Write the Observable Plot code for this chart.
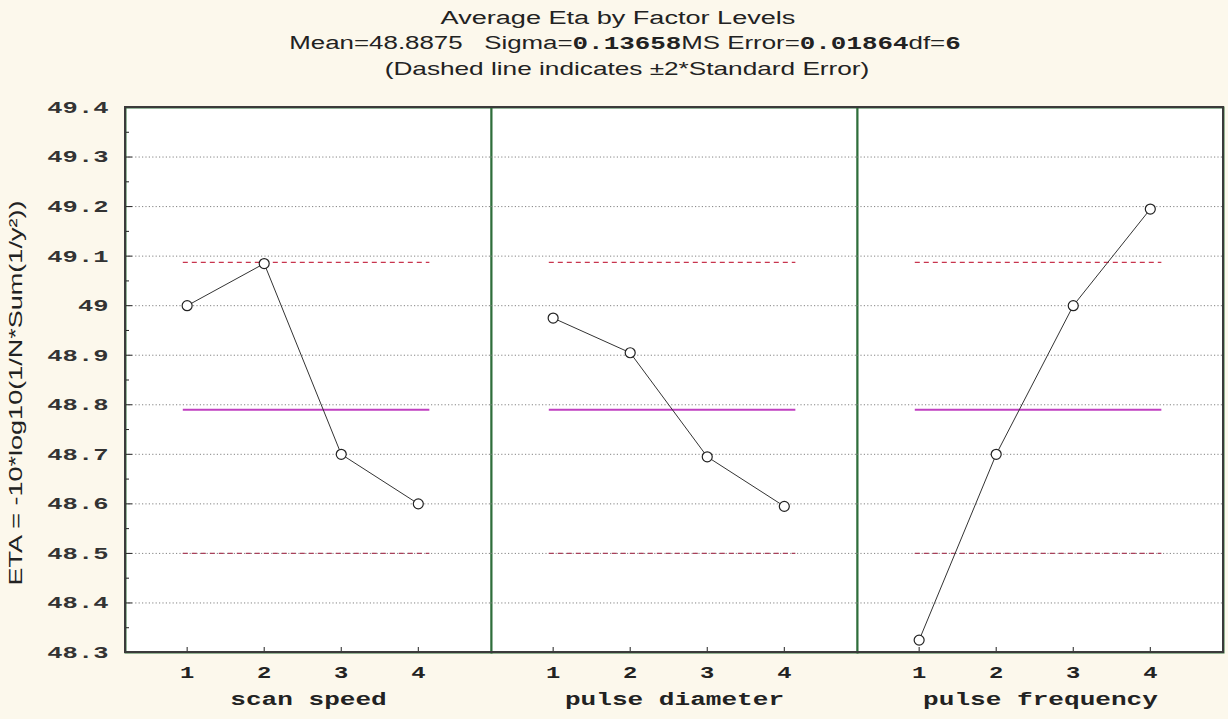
<!DOCTYPE html>
<html>
<head>
<meta charset="utf-8">
<script src="https://cdn.jsdelivr.net/npm/d3@7"></script>
<script src="https://cdn.jsdelivr.net/npm/@observablehq/plot@0.6"></script>
<style>
  html, body { margin: 0; padding: 0; background: #fcf8ec; }
  #chart { width: 1228px; height: 719px; position: relative; }
</style>
</head>
<body>
<div id="chart"></div>
<script>
// ---- data ----
const factors = ["scan speed", "pulse diameter", "pulse frequency"];
const levels = [1, 2, 3, 4];
const scanSpeed = [49.0, 49.085, 48.70, 48.60];
const pulseDiameter = [48.975, 48.905, 48.695, 48.595];
const pulseFrequency = [48.325, 48.70, 49.0, 49.195];
const yTicks = [48.3, 48.4, 48.5, 48.6, 48.7, 48.8, 48.9, 49.0, 49.1, 49.2, 49.3, 49.4];
const yMinorTicks = [48.35, 48.45, 48.55, 48.65, 48.75, 48.85, 48.95, 49.05, 49.15, 49.25, 49.35];
const errorLimits = [48.5, 49.0875];
const centerLine = [48.79];
const titleText = "Average Eta by Factor Levels";
const noteText = "(Dashed line indicates \u00b12*Standard Error)";
const yLabel = "ETA = -10*log10(1/N*Sum(1/y\u00b2))";

const series = [scanSpeed, pulseDiameter, pulseFrequency];
const rows = factors.flatMap((f, i) => levels.map((l, j) => ({factor: f, level: l, eta: series[i][j]})));
const limitRows = factors.flatMap(f => errorLimits.map(v => ({factor: f, v})));
const centerRows = factors.flatMap(f => centerLine.map(v => ({factor: f, v})));
const spanLo = d3.min(levels) - 0.05, spanHi = d3.max(levels) + 0.15;

const mono = "'Liberation Mono', 'DejaVu Sans Mono', monospace";
const sans = "'Liberation Sans', Arial, sans-serif";

const W = 1228, H = 719, mL = 125, mR = 5, mT = 107, mB = 67;

const plot = Plot.plot({
  width: W, height: H,
  marginTop: mT, marginLeft: mL, marginRight: mR, marginBottom: mB,
  style: {background: "transparent", fontFamily: mono, fontSize: "15px", color: "#333"},
  fx: {domain: factors, padding: 0, axis: null},
  x: {domain: [0.2, 4.95], axis: null},
  y: {domain: [48.3, 49.4], axis: null},
  marks: [
    Plot.frame({fill: "white", stroke: "#2f6e3b", strokeWidth: 2}),
    Plot.gridY(yTicks, {stroke: "#777", strokeOpacity: 0.9, strokeDasharray: "1.2,2.2", strokeWidth: 1}),
    Plot.ruleY(limitRows, {fx: "factor", y: "v", x1: spanLo, x2: spanHi, stroke: d => d.v > 48.8 ? "#c8344e" : "#a8405a", strokeWidth: 1.3, strokeDasharray: "5,4"}),
    Plot.ruleY(centerRows, {fx: "factor", y: "v", x1: spanLo, x2: spanHi, stroke: "#c040c0", strokeWidth: 2}),
    Plot.line(rows, {x: "level", y: "eta", fx: "factor", stroke: "#333", strokeWidth: 1}),
    Plot.dot(rows, {x: "level", y: "eta", fx: "factor", r: 5, stroke: "#222", fill: "white", strokeWidth: 1.2}),
    Plot.axisX(levels, {anchor: "bottom", tickSize: -5, tickPadding: 18, tickFormat: d => String(d), fontWeight: "bold", fontSize: 17, label: null, stroke: "#222", fill: "#222"}),
    Plot.axisY(yTicks, {anchor: "left", tickSize: -7, tickPadding: 24, tickFormat: d => (Number.isInteger(d) ? String(d) : d.toFixed(1)), fontWeight: "bold", fontSize: 17, label: null, stroke: "#222", fill: "#333"}),
    Plot.axisY(yMinorTicks, {anchor: "left", tickSize: -4, tickFormat: null, text: null, label: null, stroke: "#222"}),
    Plot.text(factors, {fx: d => d, text: d => d, frameAnchor: "bottom", dy: 52, fontSize: 18, fontWeight: "bold", fontFamily: mono, fill: "#222"})
  ]
});

document.getElementById("chart").appendChild(plot);
const svg = d3.select(plot);

// horizontal stretch helper (the reference glyphs are wide)
function stretch(sel, s) {
  sel.each(function() {
    const xa = this.getAttribute("x");
    const t = this.getAttribute("transform") || "";
    let extra = "";
    if (xa !== null && isFinite(+xa) && +xa !== 0) { extra = ` translate(${+xa},0)`; this.setAttribute("x", 0); }
    this.setAttribute("transform", `${t}${extra} scale(${s},1)`);
  });
}
stretch(svg.selectAll("[aria-label='y-axis tick label'] text"), 1.5);
stretch(svg.selectAll("[aria-label='x-axis tick label'] text"), 1.4);
stretch(svg.selectAll("g[aria-label='text'] text"), 1.45);

// overall frame
svg.append("rect")
  .attr("x", mL).attr("y", mT)
  .attr("width", W - mL - mR).attr("height", H - mT - mB)
  .attr("fill", "none").attr("stroke", "#3a3a3a").attr("stroke-width", 2);

function fitText(sel, cx, y, target) {
  const len = sel.node().getComputedTextLength();
  sel.attr("x", 0).attr("y", 0).attr("text-anchor", "middle")
    .attr("transform", `translate(${cx},${y}) scale(${target / len},1)`);
}

// titles
const t1 = svg.append("text").style("font-family", sans).style("font-size", "19px").attr("fill", "#222").text(titleText);
fitText(t1, 618, 24, 355);

const sub = svg.append("text").attr("fill", "#222").style("font-size", "19px").style("font-family", sans).attr("xml:space", "preserve");
const parts = [
  ["Mean=48.8875   Sigma=", sans], ["0.13658", mono], ["MS Error=", sans],
  ["0.01864", mono], ["df=", sans], ["6", mono]
];
parts.forEach(([t, f]) => {
  const ts = sub.append("tspan").style("font-family", f).text(t);
  if (f === mono) ts.style("font-weight", "bold");
});
fitText(sub, 625, 49, 672);

const t3 = svg.append("text").style("font-family", sans).style("font-size", "19px").attr("fill", "#222").text(noteText);
fitText(t3, 627, 75, 485);

const yl = svg.append("text").style("font-family", sans).style("font-size", "19px").attr("fill", "#222").text(yLabel);
{
  const len = yl.node().getComputedTextLength();
  yl.attr("text-anchor", "middle")
    .attr("transform", `translate(22, 393) rotate(-90) scale(${385 / len},1)`);
}
</script>
</body>
</html>
